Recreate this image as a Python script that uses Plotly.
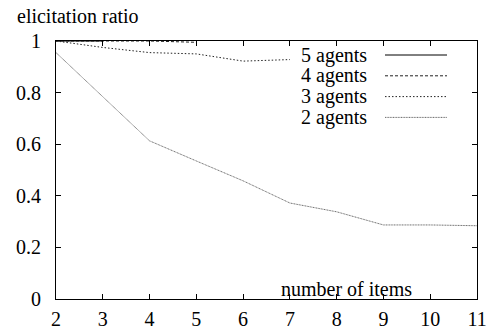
import plotly.graph_objects as go

# elicitation ratio versus number of items, one series per agent count
items_5 = [2, 3]
ratio_5 = [1.0, 1.0]

items_4 = [2, 3, 4, 5]
ratio_4 = [1.0, 1.0, 1.0, 0.995]

items_3 = [2, 3, 4, 5, 6, 7]
ratio_3 = [1.0, 0.975, 0.955, 0.95, 0.922, 0.928]

items_2 = [2, 3, 4, 5, 6, 7, 8, 9, 10, 11]
ratio_2 = [0.955, 0.785, 0.613, 0.535, 0.458, 0.372, 0.338, 0.287, 0.287, 0.284]

series_names = ["5 agents", "4 agents", "3 agents", "2 agents"]

x_ticks = [2, 3, 4, 5, 6, 7, 8, 9, 10, 11]
y_ticks = [0, 0.2, 0.4, 0.6, 0.8, 1]
y_tick_text = ["0", "0.2", "0.4", "0.6", "0.8", "1"]

FONT = "Liberation Serif, Times New Roman, serif"
FS = 20
KEY_FS = 20

styles = [
    dict(color="black", width=1, dash="solid"),
    dict(color="#222222", width=1, dash="3px,2px"),
    dict(color="#222222", width=1, dash="1.5px,2px"),
    dict(color="#6a6a6a", width=1, dash="1px,0.6px"),
]

fig = go.Figure()
for xs, ys, name, st in zip(
    [items_5, items_4, items_3, items_2],
    [ratio_5, ratio_4, ratio_3, ratio_2],
    series_names,
    styles,
):
    fig.add_trace(go.Scatter(x=xs, y=ys, mode="lines", name=name,
                             line=st, showlegend=False))

W, H = 492, 332
L, R, T, B = 56, 15, 41, 33
pw, ph = W - L - R, H - T - B


def px_x(px):
    return (px - L) / pw


def px_y(py):
    return (H - B - py) / ph


# key: label on the left, line sample on the right
key_rows = [55, 75.8, 96.6, 117.4]
for name, st, ry in zip(series_names, styles, key_rows):
    fig.add_annotation(x=px_x(369), y=px_y(ry), xref="paper", yref="paper",
                       text=name, showarrow=False, xanchor="right",
                       yanchor="middle", font=dict(family=FONT, size=KEY_FS, color="black"))
    fig.add_shape(type="line", xref="paper", yref="paper",
                  x0=px_x(385), x1=px_x(447), y0=px_y(ry), y1=px_y(ry),
                  line=st)

fig.add_annotation(x=px_x(15), y=px_y(16), xref="paper", yref="paper",
                   text="elicitation ratio", showarrow=False, xanchor="left",
                   yanchor="middle", font=dict(family=FONT, size=FS, color="black"))
fig.add_annotation(x=px_x(346), y=px_y(289), xref="paper", yref="paper",
                   text="number of items", showarrow=False, xanchor="center",
                   yanchor="middle", font=dict(family=FONT, size=FS, color="black"))

axis_common = dict(showgrid=False, zeroline=False, showline=True, linecolor="black",
                   linewidth=1, mirror="ticks", ticks="inside", ticklen=5,
                   tickcolor="black", tickwidth=1, automargin=False,
                   tickfont=dict(family=FONT, size=FS, color="black"))

fig.update_xaxes(range=[2, 11], tickvals=x_ticks, ticklabelstandoff=2, **axis_common)
fig.update_yaxes(range=[0, 1], tickvals=y_ticks, ticktext=y_tick_text,
                 ticklabelstandoff=10, **axis_common)

fig.update_layout(width=W, height=H, margin=dict(l=L, r=R, t=T, b=B),
                  paper_bgcolor="white", plot_bgcolor="white",
                  font=dict(family=FONT))

fig.write_html("out.html")
